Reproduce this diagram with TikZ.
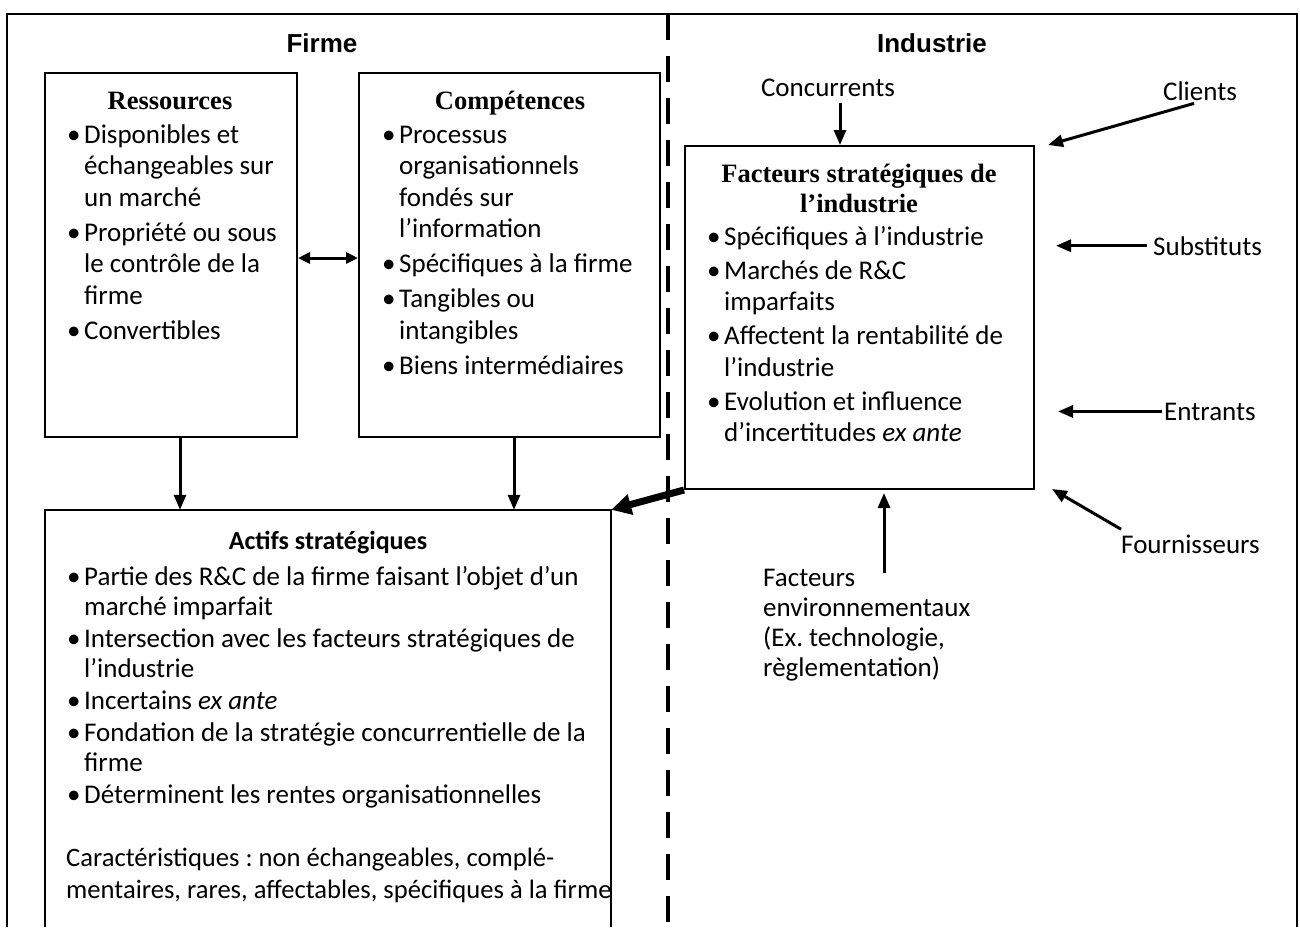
\documentclass[tikz,border=0pt]{standalone}
\usepackage{fontspec}
\setmainfont{Carlito}
\newfontfamily\tnrfont{Liberation Serif}
\newfontfamily\arialfont{Liberation Sans}
\usetikzlibrary{arrows.meta,calc}
\newcommand{\bul}{\makebox[18pt][l]{\hspace{1pt}•}}
\newcommand{\ind}{\hspace*{18pt}}
\newenvironment{lines}{\begin{tabular}[t]{@{}l@{}}}{\end{tabular}}
\newenvironment{clines}{\begin{tabular}[t]{@{}c@{}}}{\end{tabular}}
\frenchspacing
\begin{document}
\begin{tikzpicture}[x=1pt,y=-1pt,
  boxst/.style={draw, line width=2pt, inner sep=0pt},
  listtext/.style={anchor=base west, inner sep=0pt, font=\fontsize{27}{31.5}\selectfont},
  lbl/.style={inner sep=0pt, font=\fontsize{27}{30}\selectfont},
  sectitle/.style={anchor=base, inner sep=0pt, font=\arialfont\bfseries\fontsize{26}{30}\selectfont},
  tnrtitle/.style={anchor=base, inner sep=0pt, font=\tnrfont\bfseries\fontsize{26.5}{30}\selectfont},
  arr/.style={line width=3pt, -{Triangle[length=15pt,width=12pt]}},
  thickarr/.style={line width=7pt, -{Triangle[length=20pt,width=20pt]}},
  dblarr/.style={line width=3pt, {Triangle[length=12pt,width=11pt]}-{Triangle[length=12pt,width=11pt]}}]
\useasboundingbox (0,0) rectangle (1300,927);
% outer frame and divider
\draw[line width=2pt] (7,927) -- (7,14) -- (1297,14) -- (1297,927);
\draw[line width=4pt, dash pattern=on 26pt off 16pt] (668,14) -- (668,927);
% section titles
\node[sectitle] (firme) at (322,52.5) {Firme};
\node[sectitle] (industrie) at (932,52.5) {Industrie};
% boxes
\node[boxst, minimum width=252pt, minimum height=364pt] (res) at (171,255) {};
\node[boxst, minimum width=301pt, minimum height=364pt] (comp) at (509.5,255) {};
\node[boxst, minimum width=349pt, minimum height=343pt] (fac) at (859.5,317.5) {};
\node[inner sep=0pt, minimum width=566pt, minimum height=417pt] (act) at (328,718.5) {};
\draw[line width=2pt] (act.south west) -- (act.north west) -- (act.north east) -- (act.south east);
% Ressources
\node[tnrtitle] (restitle) at (170,109) {Ressources};
\node[listtext] (reslist) at (66,143) {\begin{lines}\bul Disponibles et\\
\ind échangeables sur\\
\ind un marché\\[3.5pt]
\bul Propriété ou sous\\
\ind le contrôle de la\\
\ind firme\\[3.5pt]
\bul Convertibles\end{lines}};
% Competences
\node[tnrtitle] (comptitle) at (510,109) {Compétences};
\node[listtext] (complist) at (381,143) {\begin{lines}\bul Processus\\
\ind organisationnels\\
\ind fondés sur\\
\ind l’information\\[3.5pt]
\bul Spécifiques à la firme\\[3.5pt]
\bul Tangibles ou\\
\ind intangibles\\[3.5pt]
\bul Biens intermédiaires\end{lines}};
% Facteurs strategiques
\node[tnrtitle] (factitle) at (859,182) {\begin{clines}Facteurs stratégiques de\\l’industrie\end{clines}};
\node[listtext] (faclist) at (706,245) {\begin{lines}\bul Spécifiques à l’industrie\\[2.5pt]
\bul Marchés de R\&C\\
\ind imparfaits\\[2.5pt]
\bul Affectent la rentabilité de\\
\ind l’industrie\\[2.5pt]
\bul Evolution et influence\\
\ind d’incertitudes \textit{ex ante}\end{lines}};
% Actifs strategiques
\node[anchor=base, inner sep=0pt, font=\bfseries\fontsize{26}{30}\selectfont] (acttitle) at (328,549) {Actifs stratégiques};
\node[listtext, font=\fontsize{27}{30}\selectfont] (actlist) at (66,585) {\begin{lines}\bul Partie des R\&C de la firme faisant l’objet d’un\\
\ind marché imparfait\\[2pt]
\bul Intersection avec les facteurs stratégiques de\\
\ind l’industrie\\[2pt]
\bul Incertains \textit{ex ante}\\[2pt]
\bul Fondation de la stratégie concurrentielle de la\\
\ind firme\\[2pt]
\bul Déterminent les rentes organisationnelles\end{lines}};
\node[listtext, font=\fontsize{26.6}{32}\selectfont] (caract) at (66,866) {\begin{lines}Caractéristiques : non échangeables, complé-\\
mentaires, rares, affectables, spécifiques à la firme\end{lines}};
% external forces
\node[lbl, anchor=base] (conc) at (828,96) {Concurrents};
\node[lbl, anchor=base] (cli) at (1200,100) {Clients};
\node[lbl, anchor=base west] (sub) at (1153,255) {Substituts};
\node[lbl, anchor=base west] (ent) at (1164,420) {Entrants};
\node[lbl, anchor=base west] (four) at (1121,553) {Fournisseurs};
\node[listtext, font=\fontsize{27}{30}\selectfont] (env) at (763,586) {\begin{lines}Facteurs\\
environnementaux\\
(Ex. technologie,\\
règlementation)\end{lines}};
% connectors
\draw[dblarr] ([yshift=-3pt]res.east) -- ([yshift=-3pt]comp.west);
\draw[arr] ([xshift=9pt]res.south) -- ([xshift=9pt]res.south |- act.north);
\draw[arr] ([xshift=4.5pt]comp.south) -- ([xshift=4.5pt]comp.south |- act.north);
\draw[thickarr] (fac.south west) -- (act.north east);
\draw[arr] ($(conc.south)+(12,7)$) -- ($(conc.south |- fac.north)+(12,0)$);
\draw[arr] ($(cli.south)+(-6,3)$) -- ($(fac.north east)+(13,0)$);
\draw[arr] ($(sub.west)+(-6,0)$) -- ($(sub.west -| fac.east)+(21,0)$);
\draw[arr] ($(ent.west)+(-2,0)$) -- ($(ent.west -| fac.east)+(23,0)$);
\draw[arr] ($(four.north west)+(0,-5)$) -- ($(fac.south east)+(17,-1)$);
\draw[arr] ($(env.base west)+(121,-13)$) -- ($(fac.south)+(24.5,3)$);
\end{tikzpicture}
\end{document}
